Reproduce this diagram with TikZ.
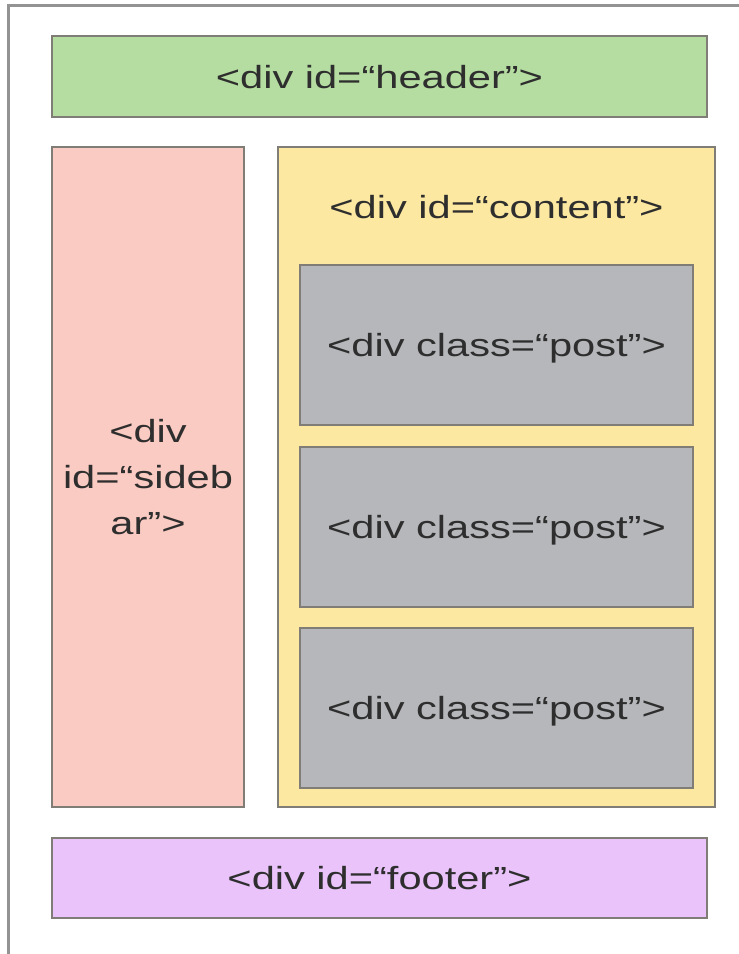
\documentclass[tikz,border=0pt]{standalone}
\usepackage{fontspec}
\usepackage{graphicx}
\setmainfont{Liberation Sans}
\usetikzlibrary{positioning}
\definecolor{hdrG}{RGB}{181,221,161}
\definecolor{sbrP}{RGB}{250,203,194}
\definecolor{cntY}{RGB}{252,232,161}
\definecolor{pstG}{RGB}{181,183,186}
\definecolor{ftrV}{RGB}{233,195,250}
\definecolor{edge}{RGB}{128,124,118}
\tikzstyle{div}=[draw=edge,line width=2pt,inner sep=0pt,text=black!82,
  font=\fontsize{32}{46}\selectfont,text height=23pt,text depth=0pt]
\tikzstyle{frame}=[line width=3pt,draw=gray!85]
\tikzstyle{hdr}=[div,fill=hdrG,minimum width=655pt,minimum height=81pt]
\tikzstyle{sbr}=[div,fill=sbrP,minimum width=192pt,minimum height=660pt,
  align=center,text height=,text depth=]
\tikzstyle{cnt}=[div,fill=cntY,minimum width=437pt,minimum height=660pt]
\tikzstyle{pst}=[div,fill=pstG,minimum width=393pt,minimum height=160pt]
\tikzstyle{ftr}=[div,fill=ftrV,minimum width=655pt,minimum height=80pt]
\newcommand\wtxt[1]{\scalebox{1.3}[1]{#1}}

\begin{document}
\begin{tikzpicture}[x=1pt,y=-1pt]
  \useasboundingbox (0,0) rectangle (739,954);
  \draw[frame] (8,960) -- (8,5) -- (745,5);
  \node[hdr] (header) at (379.5,76.5) {\wtxt{<div id=“header”>}};
  \node[sbr] (sidebar) at (148,477) {\wtxt{<div}\\\wtxt{id=“sideb}\\\wtxt{ar”>}};
  \node[cnt] (content) at (496.5,477) {};
  \node[div,draw=none] (ctitle) at (496.5,207) {\wtxt{<div id=“content”>}};
  \foreach \i/\y in {1/345, 2/526.5, 3/707.5}
    {\node[pst] (post\i) at (496.5,\y) {\wtxt{<div class=“post”>}};}
  \node[ftr] (footer) at (379.5,878) {\wtxt{<div id=“footer”>}};
\end{tikzpicture}
\end{document}
